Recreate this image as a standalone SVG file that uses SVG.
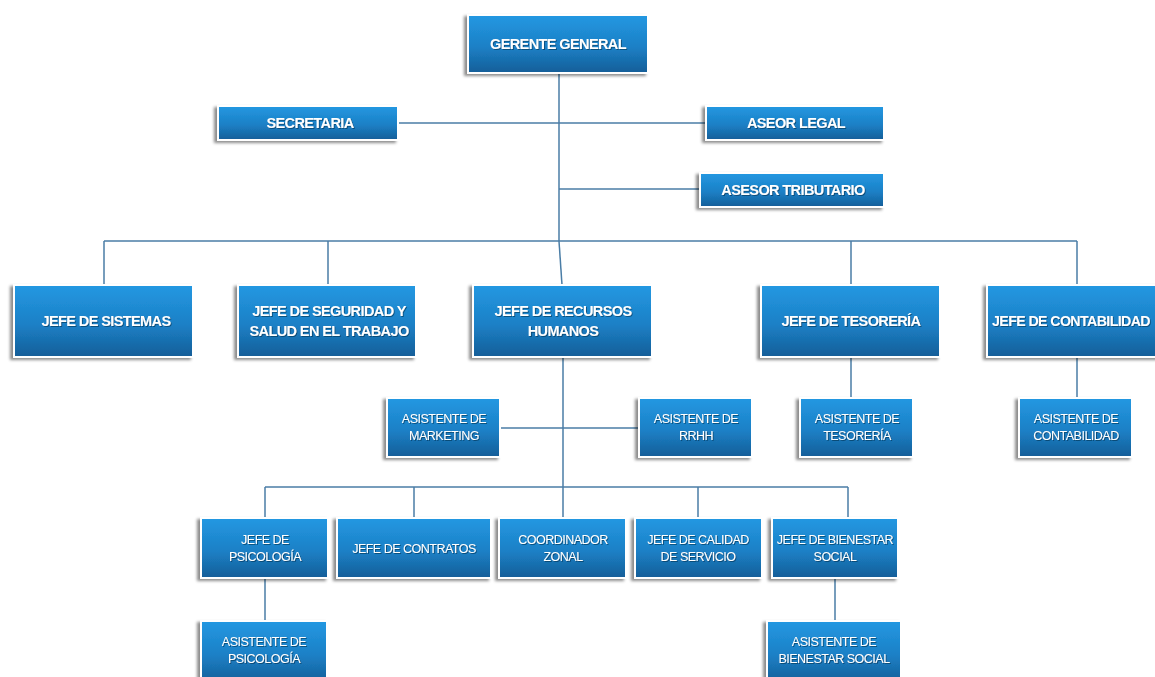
<svg xmlns="http://www.w3.org/2000/svg" width="1155" height="677" viewBox="0 0 1155 677">
<defs>
<linearGradient id="g" x1="0" y1="0" x2="0" y2="1">
<stop offset="0" stop-color="#2398E2"/>
<stop offset="0.55" stop-color="#1C80C6"/>
<stop offset="1" stop-color="#155E98"/>
</linearGradient>
<filter id="sh" x="-10%" y="-10%" width="120%" height="130%">
<feGaussianBlur in="SourceAlpha" stdDeviation="1.5"/>
<feOffset dx="-3" dy="2" result="b"/>
<feFlood flood-color="#000" flood-opacity="0.45"/>
<feComposite in2="b" operator="in"/>
<feMerge><feMergeNode/><feMergeNode in="SourceGraphic"/></feMerge>
</filter>
<filter id="ts" x="-5%" y="-20%" width="110%" height="140%">
<feGaussianBlur in="SourceAlpha" stdDeviation="0.6"/>
<feOffset dx="0.8" dy="0.8" result="b"/>
<feFlood flood-color="#0a3050" flood-opacity="0.6"/>
<feComposite in2="b" operator="in"/>
<feMerge><feMergeNode/><feMergeNode in="SourceGraphic"/></feMerge>
</filter>
</defs>
<style>
.box{fill:url(#g);stroke:#fff;stroke-width:2;filter:url(#sh)}
.t{font-family:"Liberation Sans",Arial,sans-serif;font-weight:bold;font-size:14.5px;fill:#fff;text-anchor:middle;letter-spacing:-0.6px;filter:url(#ts)}
.s{font-family:"Liberation Sans",Arial,sans-serif;font-size:12.5px;fill:#fff;text-anchor:middle;letter-spacing:-0.5px;filter:url(#ts)}
.c{stroke:#4A7DA6;stroke-width:1.5;fill:none}
</style>
<rect width="1155" height="677" fill="#fff"/>
<g id="connectors">
<line class="c" x1="559" y1="73" x2="559" y2="241"/>
<line class="c" x1="398" y1="123" x2="706" y2="123"/>
<line class="c" x1="559" y1="189" x2="700" y2="189"/>
<line class="c" x1="104" y1="241" x2="1077" y2="241"/>
<line class="c" x1="104" y1="241" x2="104" y2="285"/>
<line class="c" x1="328" y1="241" x2="328" y2="285"/>
<line class="c" x1="559" y1="241" x2="562" y2="285"/>
<line class="c" x1="851" y1="241" x2="851" y2="285"/>
<line class="c" x1="1077" y1="241" x2="1077" y2="285"/>
<line class="c" x1="563" y1="357" x2="563" y2="487"/>
<line class="c" x1="500" y1="428" x2="639" y2="428"/>
<line class="c" x1="851" y1="357" x2="851" y2="398"/>
<line class="c" x1="1077" y1="357" x2="1077" y2="398"/>
<line class="c" x1="265" y1="487" x2="848" y2="487"/>
<line class="c" x1="265" y1="487" x2="265" y2="518"/>
<line class="c" x1="414" y1="487" x2="414" y2="518"/>
<line class="c" x1="563" y1="487" x2="563" y2="518"/>
<line class="c" x1="698" y1="487" x2="698" y2="518"/>
<line class="c" x1="848" y1="487" x2="848" y2="518"/>
<line class="c" x1="265" y1="578" x2="265" y2="621"/>
<line class="c" x1="835" y1="578" x2="835" y2="621"/>
</g>
<g id="gerente"><rect class="box" x="468" y="15" width="180" height="58"/><text class="t" x="558" y="49">GERENTE GENERAL</text></g>
<g id="secretaria"><rect class="box" x="218" y="106" width="180" height="34"/><text class="t" x="310" y="128">SECRETARIA</text></g>
<g id="asesor-legal"><rect class="box" x="706" y="106" width="178" height="34"/><text class="t" x="796" y="128">ASEOR LEGAL</text></g>
<g id="asesor-tributario"><rect class="box" x="700" y="173" width="184" height="34"/><text class="t" x="793" y="195">ASESOR TRIBUTARIO</text></g>
<g id="jefe-sistemas"><rect class="box" x="14" y="285" width="179" height="72"/><text class="t" x="106" y="326">JEFE DE SISTEMAS</text></g>
<g id="jefe-seguridad"><rect class="box" x="238" y="285" width="178" height="72"/><text class="t" x="329" y="316">JEFE DE SEGURIDAD Y</text><text class="t" x="329" y="336">SALUD EN EL TRABAJO</text></g>
<g id="jefe-rrhh"><rect class="box" x="473" y="285" width="179" height="72"/><text class="t" x="563" y="316">JEFE DE RECURSOS</text><text class="t" x="563" y="336">HUMANOS</text></g>
<g id="jefe-tesoreria"><rect class="box" x="761" y="285" width="179" height="72"/><text class="t" x="851" y="326">JEFE DE TESORERÍA</text></g>
<g id="jefe-contabilidad"><rect class="box" x="987" y="285" width="180" height="72"/><text class="t" x="1071" y="326" textLength="158" lengthAdjust="spacingAndGlyphs">JEFE DE CONTABILIDAD</text></g>
<g id="asistente-marketing"><rect class="box" x="387" y="398" width="113" height="59"/><text class="s" x="444" y="423">ASISTENTE DE</text><text class="s" x="444" y="440">MARKETING</text></g>
<g id="asistente-rrhh"><rect class="box" x="639" y="398" width="113" height="59"/><text class="s" x="696" y="423">ASISTENTE DE</text><text class="s" x="696" y="440">RRHH</text></g>
<g id="asistente-tesoreria"><rect class="box" x="800" y="398" width="113" height="59"/><text class="s" x="857" y="423">ASISTENTE DE</text><text class="s" x="857" y="440">TESORERÍA</text></g>
<g id="asistente-contabilidad"><rect class="box" x="1019" y="398" width="113" height="59"/><text class="s" x="1076" y="423">ASISTENTE DE</text><text class="s" x="1076" y="440">CONTABILIDAD</text></g>
<g id="jefe-psicologia"><rect class="box" x="201" y="518" width="127" height="60"/><text class="s" x="265" y="544">JEFE DE</text><text class="s" x="265" y="561">PSICOLOGÍA</text></g>
<g id="jefe-contratos"><rect class="box" x="337" y="518" width="154" height="60"/><text class="s" x="414" y="553">JEFE DE CONTRATOS</text></g>
<g id="coordinador"><rect class="box" x="499" y="518" width="127" height="60"/><text class="s" x="563" y="544">COORDINADOR</text><text class="s" x="563" y="561">ZONAL</text></g>
<g id="jefe-calidad"><rect class="box" x="635" y="518" width="127" height="60"/><text class="s" x="698" y="544">JEFE DE CALIDAD</text><text class="s" x="698" y="561">DE SERVICIO</text></g>
<g id="jefe-bienestar"><rect class="box" x="772" y="518" width="126" height="60"/><text class="s" x="835" y="544">JEFE DE BIENESTAR</text><text class="s" x="835" y="561">SOCIAL</text></g>
<g id="asistente-psicologia"><rect class="box" x="201" y="621" width="126" height="62"/><text class="s" x="264" y="646">ASISTENTE DE</text><text class="s" x="264" y="663">PSICOLOGÍA</text></g>
<g id="asistente-bienestar"><rect class="box" x="767" y="621" width="134" height="62"/><text class="s" x="834" y="646">ASISTENTE DE</text><text class="s" x="834" y="663">BIENESTAR SOCIAL</text></g>
</svg>
